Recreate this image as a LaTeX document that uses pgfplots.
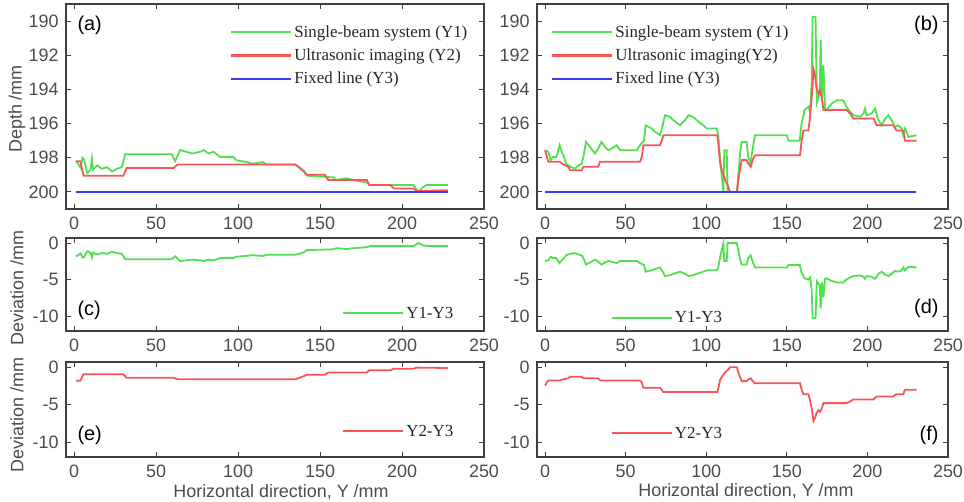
\documentclass[border=0pt]{standalone}
\usepackage{pgfplots}
\usepackage{pgfplotstable}
\usepackage{fontspec}
\pgfplotsset{compat=1.18}
\setmainfont{Liberation Sans}
\newfontfamily\legserif{Liberation Serif}

\definecolor{cgreen}{RGB}{80,225,80}
\definecolor{cred}{RGB}{250,85,85}
\definecolor{cblue}{RGB}{60,60,245}

% depth profiles, x in mm, depth in mm
\pgfplotstableread{
x y
1 198.2
2 198.3
4 198.6
5 198.0
6 198.1
8 198.9
10 198.7
10.8 198.05
11.5 198.7
14 198.45
17 198.65
20 198.55
23 198.8
26 198.65
29 198.55
30 198.25
31 197.8
59.5 197.8
61.6 198.2
64.6 197.55
72 197.75
77 197.65
79 197.55
82 197.75
85 197.65
89 197.95
97 197.95
99 198.15
105 198.25
109 198.35
115 198.25
117.5 198.4
135 198.4
137 198.55
140 198.75
142 199.05
158 199.15
160 199.3
166 199.2
170 199.3
178.5 199.45
180.5 199.6
207 199.6
208.5 199.8
210 200.0
213 199.7
215 199.6
228 199.6
}\greenA
\pgfplotstableread{
x y
1 198.2
3.7 198.2
5.7 199.05
30 199.05
32 198.6
60.6 198.6
63 198.4
135 198.4
137 198.55
140 198.8
142 199.0
153 199.0
155 199.3
178.5 199.3
180 199.6
193 199.6
195 199.8
207 199.8
209 199.95
228 199.9
}\redA
\pgfplotstableread{
x y
0 197.56
2 197.65
3.5 198.14
5 197.95
7 197.95
9 197.27
10.3 197.65
11.8 197.95
13 198.34
15.5 198.53
18.6 198.63
20.7 198.45
22.7 198.34
23.8 197.95
25.4 197.07
27.9 197.36
31 197.75
33 197.46
35 197.07
37.2 197.36
39.3 197.56
41.4 197.46
44.5 197.27
46.5 197.56
56.9 197.56
58.9 197.27
61.4 197.0
62.4 196.1
66.2 196.29
68.2 196.48
71.3 196.68
73 196.1
74.4 195.51
77.5 195.61
79.6 195.8
83.7 196.1
86.8 195.8
89 195.51
92 195.61
94 195.8
98.2 196.1
100.3 196.29
106.5 196.29
107.5 196.68
108 197.36
109 198.5
110 199.4
110.6 200
111.2 197.56
112.7 197.56
113.3 200
119 200
121 197.75
122 197.07
125.1 197.07
126 197.95
127.5 198.34
128.8 197.46
130.3 196.68
150 196.68
151 197.0
158 197.0
159 196.1
161 195.2
163.4 195.02
164.4 195.31
165.4 193.65
166 189.75
167.8 189.75
168.6 194.8
170.4 194.24
171 191.1
171.8 194.63
172.7 192.6
173.7 195.12
174.7 195.2
177.8 194.83
181 194.63
185 194.63
187 195.02
189.2 195.3
191.3 195.51
195.4 195.6
197.5 195.41
198.5 195.12
199.5 195.51
202.6 195.41
204.7 195.12
206.8 195.8
208.9 196.1
211 195.71
213 195.51
215 195.8
217 196.2
219 196.1
221.3 196.29
222.3 196.68
223.3 196.29
224.3 196.48
225.4 196.78
230.5 196.68
}\greenB
\pgfplotstableread{
x y
0 197.56
2 198.24
9.3 198.24
10.3 198.34
14.5 198.53
15.5 198.73
22.7 198.73
23.8 198.53
33 198.53
34.1 198.24
58.9 198.24
60 197.95
61 197.27
71.3 197.27
72.4 197.0
73.4 196.68
106.9 196.68
107.7 197.36
108.6 198.3
109.6 198.7
111.7 199.3
113.7 199.7
114.8 200
119 200
120.5 198.93
122 198.14
125 198.14
126 198.34
127.6 198.53
128.8 198.14
130.3 197.85
158.2 197.85
159.2 197.0
160.3 196.4
163.4 196.4
164.4 195.6
165.8 194.05
166.5 192.8
167.5 193.2
168.5 193.95
169.6 194.24
170.6 194.05
171.6 194.43
172.7 195.2
187 195.2
189.2 195.41
191.3 195.7
203.7 195.7
205.8 196.1
216 196.1
218 196.4
222.3 196.4
223.3 197.0
230.5 197.0
}\redB

\newcommand\tickfont{\fontsize{18}{20}\selectfont}
\newcommand\legfont{\legserif\fontsize{17}{19}\selectfont}

\pgfplotsset{
  panel/.style={
    scale only axis,
    xmin=-5, xmax=250,
    xtick={0,50,...,250},
    tick align=inside,
    major tick length=5bp,
    axis line style={black!75, line width=1.2bp},
    every tick/.style={black!75, line width=1bp},
    tick label style={font=\tickfont, text=black!70},
    /pgf/number format/assume math mode=true,
    xticklabel shift=4bp,
    yticklabel shift=4bp,
    legend cell align=left,
    legend style={draw=none, fill=none, font=\legfont, text=black!85,
      inner sep=0pt, row sep=6bp, nodes={inner sep=2bp}},
  },
  depth/.style={panel, width=411bp, height=205bp,
    ymin=189, ymax=201, y dir=reverse, ytick={190,192,...,200}},
  dev/.style={panel, width=411bp, height=93bp,
    ymin=-12, ymax=0.7, ytick={-10,-5,0}},
  legend image code/.code={\draw[#1, line width=2.2bp] (0bp,0bp) -- (60bp,0bp);},
}

\begin{document}
\begin{tikzpicture}
\useasboundingbox (0,0) rectangle (964bp,502bp);

% (a)
\begin{axis}[depth, width=418bp, at={(66bp,293bp)}, anchor=south west,
  legend style={at={(rel axis cs:0.392,0.905)}, anchor=north west}]
  \addplot[cgreen, line width=1.8bp] table {\greenA};
  \addplot[cred, line width=1.8bp] table {\redA};
  \addplot[cblue, line width=1.8bp] coordinates {(1,200) (228,200)};
  \legend{Single-beam system (Y1), Ultrasonic imaging (Y2), Fixed line (Y3)}
\end{axis}

% (b)
\begin{axis}[depth, at={(537bp,293bp)}, anchor=south west,
  legend style={at={(rel axis cs:0.034,0.905)}, anchor=north west}]
  \addplot[cgreen, line width=1.8bp] table {\greenB};
  \addplot[cred, line width=1.8bp] table {\redB};
  \addplot[cblue, line width=1.8bp] coordinates {(0,200) (230,200)};
  \legend{Single-beam system (Y1), Ultrasonic imaging(Y2), Fixed line (Y3)}
\end{axis}

% (c)
\begin{axis}[dev, width=418bp, height=93bp, at={(66bp,171bp)}, anchor=south west,
  legend style={at={(rel axis cs:0.66,0.19)}, anchor=west}]
  \addplot[cgreen, line width=1.8bp] table [y expr=\thisrow{y}-200] {\greenA};
  \legend{Y1-Y3}
\end{axis}

% (d)
\begin{axis}[dev, at={(537bp,171bp)}, anchor=south west,
  legend style={at={(rel axis cs:0.179,0.14)}, anchor=west}]
  \addplot[cgreen, line width=1.8bp] table [y expr=\thisrow{y}-200] {\greenB};
  \legend{Y1-Y3}
\end{axis}

% (e)
\begin{axis}[dev, width=418bp, height=95bp, at={(66bp,45bp)}, anchor=south west,
  legend style={at={(rel axis cs:0.66,0.27)}, anchor=west}]
  \addplot[cred, line width=1.8bp] table [y expr=\thisrow{y}-200] {\redA};
  \legend{Y2-Y3}
\end{axis}

% (f)
\begin{axis}[dev, height=95bp, at={(537bp,45bp)}, anchor=south west,
  legend style={at={(rel axis cs:0.179,0.25)}, anchor=west}]
  \addplot[cred, line width=1.8bp] table [y expr=\thisrow{y}-200] {\redB};
  \legend{Y2-Y3}
\end{axis}

% axis titles and panel tags
\begin{scope}[font=\fontsize{18}{20}\selectfont, text=black!70]
  \node[rotate=90] at (17bp,393bp) {Depth /mm};
  \node[rotate=90] at (17bp,214bp) {Deviation /mm};
  \node[rotate=90] at (17bp,87bp) {Deviation /mm};
  \node at (281bp,10bp) {Horizontal direction, Y /mm};
  \node at (746bp,11bp) {Horizontal direction, Y /mm};
\end{scope}
\begin{scope}[font=\fontsize{20}{22}\selectfont]
  \node[anchor=west] at (74bp,477bp) {(a)};
  \node[anchor=east] at (942bp,477bp) {(b)};
  \node[anchor=west] at (74bp,192bp) {(c)};
  \node[anchor=east] at (942bp,194bp) {(d)};
  \node[anchor=west] at (74bp,67bp) {(e)};
  \node[anchor=east] at (942bp,67bp) {(f)};
\end{scope}
\end{tikzpicture}
\end{document}
